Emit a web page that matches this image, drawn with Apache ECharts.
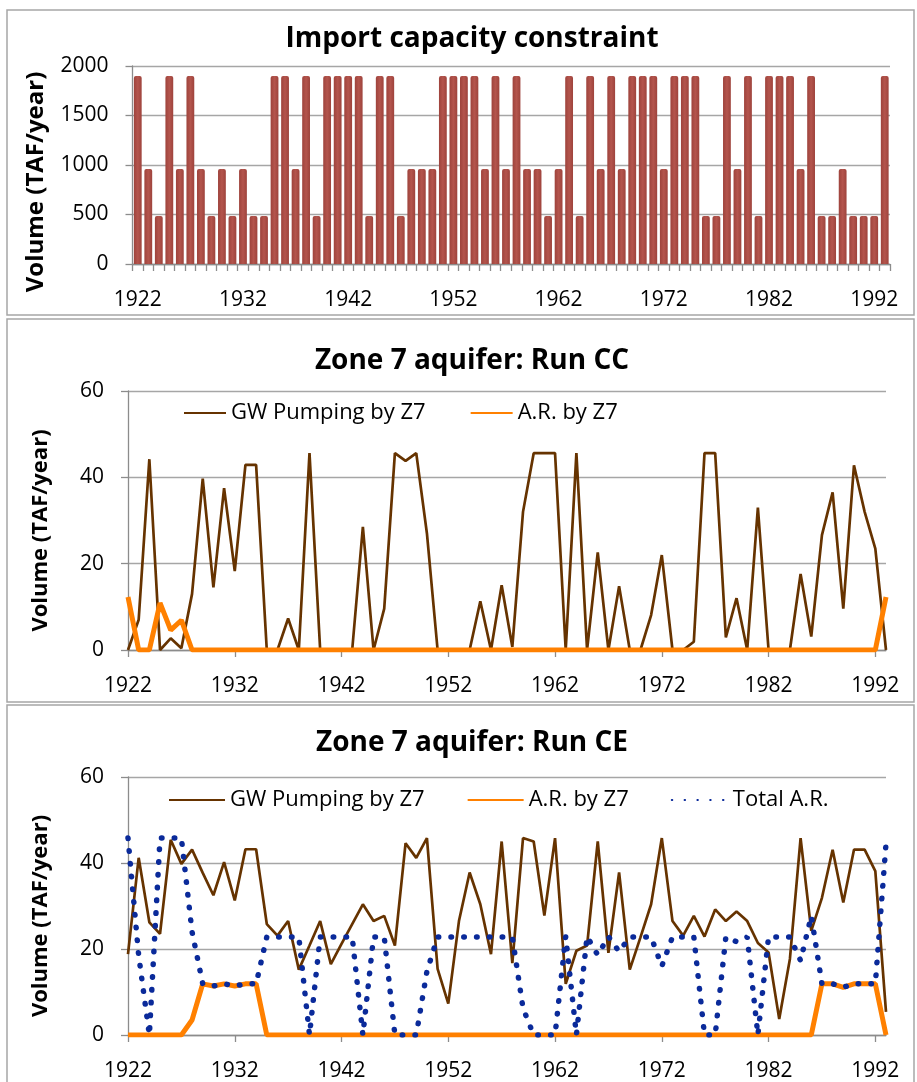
<!DOCTYPE html>
<html><head><meta charset="utf-8">
<script src="https://cdn.jsdelivr.net/npm/echarts@6/dist/echarts.min.js"></script>
<style>html,body{margin:0;padding:0;background:#fff}#c{width:917px;height:1082px}</style>
</head><body><div id="c"></div>
<script>
const years = ['1922','1923','1924','1925','1926','1927','1928','1929','1930','1931','1932','1933','1934','1935','1936','1937','1938','1939','1940','1941','1942','1943','1944','1945','1946','1947','1948','1949','1950','1951','1952','1953','1954','1955','1956','1957','1958','1959','1960','1961','1962','1963','1964','1965','1966','1967','1968','1969','1970','1971','1972','1973','1974','1975','1976','1977','1978','1979','1980','1981','1982','1983','1984','1985','1986','1987','1988','1989','1990','1991','1992','1993'];

const importCapacity = [1900,960,485,1900,960,1900,960,485,960,485,960,485,485,1900,1900,960,1900,485,1900,1900,1900,1900,485,1900,1900,485,960,960,960,1900,1900,1900,1900,960,1900,960,1900,960,960,485,960,1900,485,1900,960,1900,960,1900,1900,1900,960,1900,1900,1900,485,485,1900,960,1900,485,1900,1900,1900,960,1900,485,485,960,485,485,485,1900];

const gwPumpingCC = [0,7,44.2,0,2.7,0.4,13,39.7,14.5,37.5,18.3,42.9,42.9,0,0,7.3,0,45.6,0,0,0,0,28.5,0,9.6,45.6,43.8,45.6,27,0,0,0,0,11.3,0,15,0.7,32,45.6,45.6,45.6,0,45.6,0,22.6,0,14.8,0,0,8.1,22,0,0,1.9,45.6,45.6,2.9,12,0,33,0,0,0,17.6,3.1,26.6,36.5,9.6,42.8,32,23.5,0];
const arZ7CC = [12.3,0,0,10.9,4.6,6.9,0,0,0,0,0,0,0,0,0,0,0,0,0,0,0,0,0,0,0,0,0,0,0,0,0,0,0,0,0,0,0,0,0,0,0,0,0,0,0,0,0,0,0,0,0,0,0,0,0,0,0,0,0,0,0,0,0,0,0,0,0,0,0,0,0,12.3];

const gwPumpingCE = [18.8,41.2,26.2,23.5,45.4,39.8,43.1,37.7,32.5,40.2,31.3,43.2,43.2,25.8,23.1,26.5,15.2,20.8,26.5,16.5,21.2,25.8,30.4,26.5,27.7,20.8,44.6,41.2,45.8,15.4,7.3,26.5,37.8,30.4,18.8,45,16.7,45.8,45,27.8,45.8,11.9,19.6,20.8,45,19.1,37.8,15.2,22.7,30.4,45.8,26.5,23.1,27.7,22.9,29.2,26.5,28.7,26.5,21.4,19.2,3.7,17.7,45.8,24.2,31.9,43.1,30.8,43.1,43.1,38.1,5.4];
const arZ7CE = [0,0,0,0,0,0,3.5,11.9,11.4,11.9,11.4,11.9,11.9,0,0,0,0,0,0,0,0,0,0,0,0,0,0,0,0,0,0,0,0,0,0,0,0,0,0,0,0,0,0,0,0,0,0,0,0,0,0,0,0,0,0,0,0,0,0,0,0,0,0,0,0,11.9,11.9,11.1,11.9,11.9,11.9,0];
const totalArCE = [45.8,18.5,0,45.8,45.8,45.8,24,11.9,11.4,11.9,11.4,11.9,11.9,22.8,22.8,22.8,22.8,0,22.8,22.8,22.8,22.8,0,22.8,22.8,0,0,0,14.8,22.8,22.8,22.8,22.8,22.8,22.8,22.8,22.8,6.2,0,0,0,22.9,0,22.9,18.6,22.9,19.4,22.8,22.8,22.8,16,22.8,22.8,22.8,0,0,22.8,21.7,22.8,0,22.8,22.8,22.8,17.3,27.7,11.9,11.9,11.1,11.9,11.9,11.9,44.5];

const titles = ['Import capacity constraint','Zone 7 aquifer: Run CC','Zone 7 aquifer: Run CE'];
const yName = 'Volume (TAF/year)';
const nameGW = 'GW Pumping by Z7', nameAR = 'A.R. by Z7', nameTot = 'Total A.R.';

const FONT = "'Open Sans', 'Noto Sans', sans-serif";
const gridColor = '#A6A6A6';
const axisColor = '#8C8C8C';

const chart = echarts.init(document.getElementById('c'), null, {renderer: 'canvas'});

function xAxisCfg(gi, boundary) {
  return {
    type: 'category', gridIndex: gi, data: years, boundaryGap: boundary,
    axisLine: {show: true, lineStyle: {color: axisColor, width: 1.3}},
    axisTick: {show: true, interval: boundary ? 0 : 9, length: 7, lineStyle: {color: axisColor, width: 1.3}},
    axisLabel: {interval: 9, margin: 26, color: '#000', fontFamily: FONT, fontSize: 21},
    splitLine: {show: false}
  };
}
function yAxisCfg(gi, max, interval, gap, nameSize, shift) {
  return {
    type: 'value', gridIndex: gi, min: 0, max: max, interval: interval,
    name: yName, nameLocation: 'middle', nameRotate: 90, nameGap: gap,
    nameTextStyle: {fontFamily: FONT, fontSize: nameSize, fontWeight: 'bold', color: '#000', padding: [0, shift, 0, 0]},
    axisLine: {show: true, lineStyle: {color: axisColor, width: 1.3}},
    axisTick: {show: true, length: 7, lineStyle: {color: axisColor, width: 1.3}},
    axisLabel: {margin: 24, color: '#000', fontFamily: FONT, fontSize: 21, formatter: v => String(v)},
    splitLine: {show: true, lineStyle: {color: gridColor, width: 1.3}}
  };
}

const brown = '#663300', orange = '#FF8000', blue = '#0A2A9A';
const hiddenSymbol = {color: 'rgba(0,0,0,0)', borderWidth: 0, opacity: 0};

const option = {
  animation: false,
  backgroundColor: '#fff',
  grid: [
    {left: 132.5, right: 27, top: 66, height: 198},
    {left: 128, right: 31, top: 391, height: 259},
    {left: 128, right: 31, top: 777, height: 260}
  ],
  xAxis: [xAxisCfg(0, true), xAxisCfg(1, false), xAxisCfg(2, false)],
  yAxis: [yAxisCfg(0, 2000, 500, 84, 24, 34), yAxisCfg(1, 60, 20, 76, 22, 20), yAxisCfg(2, 60, 20, 76, 22, 20)],
  legend: [
    {left: 178, top: 397, itemWidth: 42, itemHeight: 14, itemGap: 44, itemStyle: hiddenSymbol,
     data: [nameGW, nameAR], textStyle: {fontFamily: FONT, fontSize: 22, color: '#000'}},
    {left: 163, top: 784, itemWidth: 56, itemHeight: 14, itemGap: 42, itemStyle: hiddenSymbol,
     data: [nameGW, nameAR, nameTot], textStyle: {fontFamily: FONT, fontSize: 22, color: '#000'}}
  ],
  graphic: [
    {type: 'rect', shape: {x: 7, y: 10, width: 907, height: 305}, style: {fill: 'none', stroke: '#A6A6A6', lineWidth: 1.5}, silent: true},
    {type: 'rect', shape: {x: 7, y: 319, width: 907, height: 383}, style: {fill: 'none', stroke: '#A6A6A6', lineWidth: 1.5}, silent: true},
    {type: 'rect', shape: {x: 7, y: 705, width: 907, height: 390}, style: {fill: 'none', stroke: '#A6A6A6', lineWidth: 1.5}, silent: true},
    {type: 'text', x: 472, y: 39, style: {text: titles[0], align: 'center', verticalAlign: 'middle', font: "bold 28px 'Open Sans', sans-serif", fill: '#000'}},
    {type: 'text', x: 472, y: 361, style: {text: titles[1], align: 'center', verticalAlign: 'middle', font: "bold 28px 'Open Sans', sans-serif", fill: '#000'}},
    {type: 'text', x: 472, y: 743, style: {text: titles[2], align: 'center', verticalAlign: 'middle', font: "bold 28px 'Open Sans', sans-serif", fill: '#000'}}
  ],
  series: [
    {type: 'bar', name: 'Import capacity', xAxisIndex: 0, yAxisIndex: 0, data: importCapacity, barWidth: 7.8,
     itemStyle: {borderRadius: [2, 2, 0, 0], color: new echarts.graphic.LinearGradient(0, 0, 1, 0, [
       {offset: 0, color: '#9E433C'}, {offset: 0.5, color: '#B4554D'}, {offset: 1, color: '#9E433C'}])}},
    {type: 'line', name: nameGW, xAxisIndex: 1, yAxisIndex: 1, data: gwPumpingCC, symbol: 'none',
     lineStyle: {color: brown, width: 2.7}, itemStyle: {color: brown}},
    {type: 'line', name: nameAR, xAxisIndex: 1, yAxisIndex: 1, data: arZ7CC, symbol: 'none',
     lineStyle: {color: orange, width: 5}, itemStyle: {color: orange}},
    {type: 'line', name: nameGW, xAxisIndex: 2, yAxisIndex: 2, data: gwPumpingCE, symbol: 'none',
     lineStyle: {color: brown, width: 2.7}, itemStyle: {color: brown}},
    {type: 'line', name: nameAR, xAxisIndex: 2, yAxisIndex: 2, data: arZ7CE, symbol: 'none',
     lineStyle: {color: orange, width: 5}, itemStyle: {color: orange}},
    {type: 'line', name: nameTot, xAxisIndex: 2, yAxisIndex: 2, data: totalArCE, symbol: 'none',
     lineStyle: {color: blue, width: 5.5, type: [0.5, 12.3], cap: 'round'}, itemStyle: {color: blue}}
  ]
};
chart.setOption(option);
</script>
</body></html>
